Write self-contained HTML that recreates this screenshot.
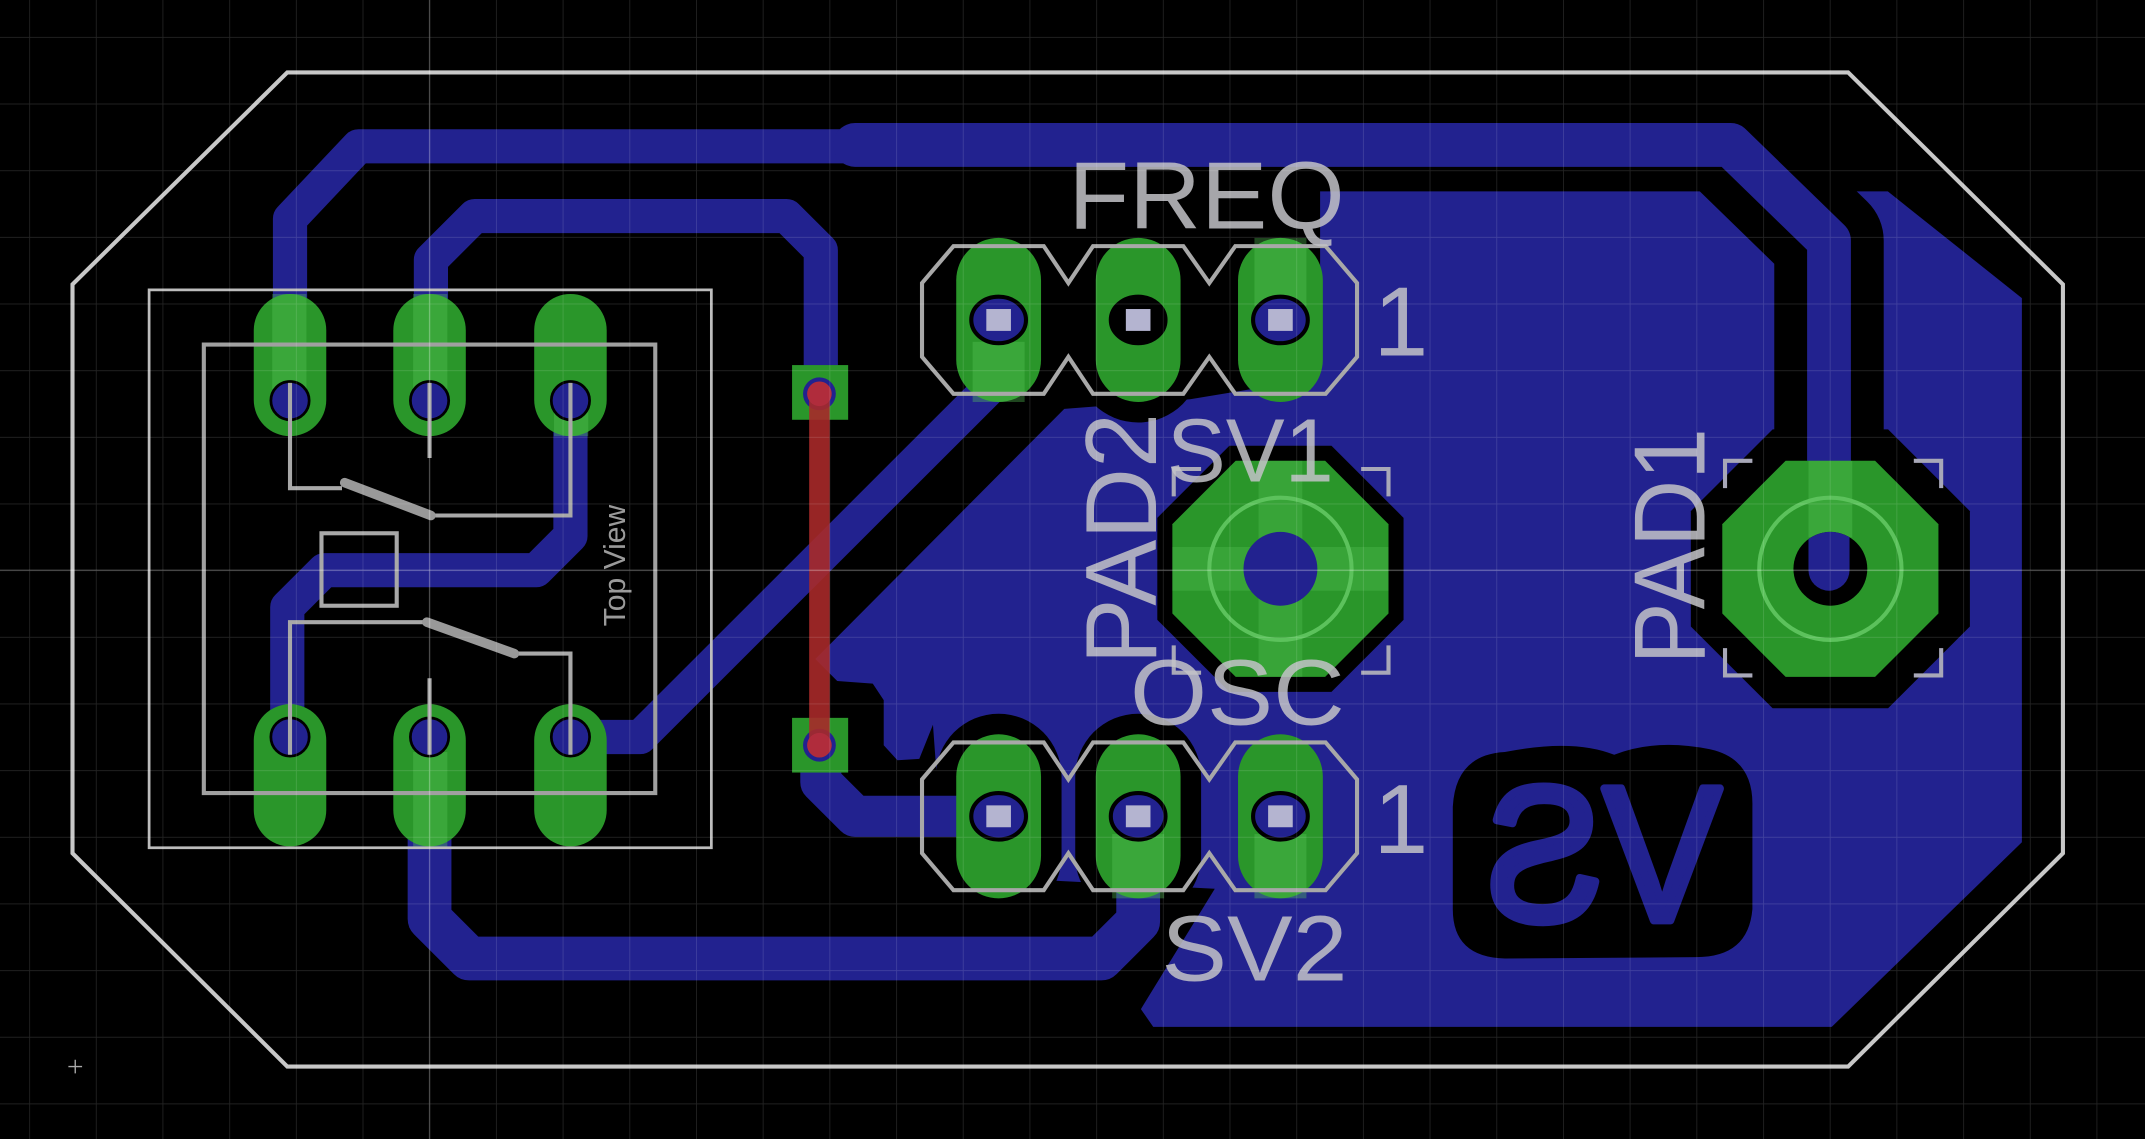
<!DOCTYPE html>
<html><head><meta charset="utf-8"><style>
html,body{margin:0;padding:0;background:#000;}
svg{display:block;}
</style></head><body>
<svg width="2145" height="1139" viewBox="0 0 1568 833" preserveAspectRatio="none" xmlns="http://www.w3.org/2000/svg">
<defs>
<pattern id="g" patternUnits="userSpaceOnUse" x="21.3" y="27" width="48.75" height="48.75">
<path d="M0 0H48.75M0 0V48.75" stroke="rgba(255,255,255,0.14)" stroke-width="1.2" fill="none"/>
</pattern>
<clipPath id="h1"><circle cx="1338" cy="416" r="27"/></clipPath>
</defs>
<rect width="1568" height="833" fill="#000"/>

<!-- copper pour -->
<polygon fill="#22228f" points="778,299 870,292 918,284 965,258 965,140 1380,140 1478,218 1478,616 1339,751 843,751 834,738 888,650 690,640 682,530 672,555 656,556 646,545 646,512 638,500 612,498 596,482"/>

<!-- clearances -->
<g stroke="#000" fill="none" stroke-linejoin="round" stroke-linecap="round">
<polyline points="1265,106 1337,176 1337,417" stroke-width="80"/>
<polyline points="314,545 314,672 343,701 805,701 832,674 832,597" stroke-width="70"/>
</g>
<polygon fill="#000" transform="translate(936,416)" points="90,37.3 37.3,90 -37.3,90 -90,37.3 -90,-37.3 -37.3,-90 37.3,-90 90,-37.3"/>
<polygon fill="#000" transform="translate(1338,416)" points="102,42.2 42.2,102 -42.2,102 -102,42.2 -102,-42.2 -42.2,-102 42.2,-102 102,-42.2"/>
<g fill="#000">
<rect x="684" y="522" width="92" height="150" rx="46"/>
<rect x="786" y="522" width="92" height="150" rx="46"/>
<rect x="684" y="159" width="92" height="150" rx="46"/>
<rect x="786" y="159" width="92" height="150" rx="46"/>
</g>

<!-- SV copper logo -->
<path d="M1100,550 Q1150,540 1180,552 Q1210,540 1250,548 Q1282,555 1281,590 L1281,665 Q1278,700 1240,700 L1100,701 Q1062,700 1062,665 L1062,590 Q1064,552 1100,550 Z" fill="#000"/>
<text x="1086" y="673" font-family="Liberation Sans, DejaVu Sans, sans-serif" font-size="140" textLength="172" lengthAdjust="spacingAndGlyphs" fill="#22228f" stroke="#22228f" stroke-width="6" stroke-linejoin="round">ƧV</text>

<!-- traces -->
<g stroke="#22228f" fill="none" stroke-linejoin="round" stroke-linecap="round">
<polyline points="212,293 212,160 262,107 625,107" stroke-width="25"/>
<polyline points="625,106 1265,106 1337,176 1337,392" stroke-width="32"/>
<polyline points="315,293 315,190 347,158 575,158 600,183 600,288" stroke-width="25"/>
<polyline points="417,293 417,392 392,417 237,417 210,444 210,540" stroke-width="25"/>
<polyline points="417,539 468,539 730,277 730,234" stroke-width="25"/>
<polyline points="600,544 600,572 625,597 730,597" stroke-width="30"/>
<polyline points="314,545 314,672 343,701 805,701 832,674 832,597" stroke-width="32"/>
</g>

<!-- board outline -->
<polygon points="210,53 1351,53 1508,208 1508,624 1351,780 210,780 53,624 53,208" fill="none" stroke="#c8c8c8" stroke-width="3"/>

<!-- DIP switch pads -->
<g fill="#2a962a">
<rect x="185.5" y="215" width="53" height="104" rx="26.5"/>
<rect x="287.5" y="215" width="53" height="104" rx="26.5"/>
<rect x="390.5" y="215" width="53" height="104" rx="26.5"/>
<rect x="185.5" y="515" width="53" height="104" rx="26.5"/>
<rect x="287.5" y="515" width="53" height="104" rx="26.5"/>
<rect x="390.5" y="515" width="53" height="104" rx="26.5"/>
</g>
<g fill="rgba(90,200,90,0.35)">
<rect x="199" y="215" width="25" height="70"/>
<rect x="302" y="215" width="25" height="70"/>
<rect x="302" y="550" width="25" height="69"/>
<rect x="405" y="300" width="25" height="19"/>
</g>
<g fill="#22228f" stroke="#000" stroke-width="2">
<circle cx="212" cy="293" r="14"/><circle cx="314" cy="293" r="14"/><circle cx="417" cy="293" r="14"/>
<circle cx="212" cy="539" r="14"/><circle cx="314" cy="539" r="14"/><circle cx="417" cy="539" r="14"/>
</g>
<!-- DIP silk -->
<rect x="109" y="212" width="411" height="408" fill="none" stroke="#bdbdbd" stroke-width="2"/>
<rect x="149" y="252" width="330" height="328" fill="none" stroke="#a0a0a0" stroke-width="3"/>
<g stroke="#a8a8a8" stroke-width="3" fill="none">
<polyline points="212,280 212,357 250,357"/>
<polyline points="315,377 417,377 417,280"/>
<line x1="314" y1="280" x2="314" y2="335"/>
<polyline points="212,552 212,455 312,455"/>
<polyline points="377,478 417,478 417,552"/>
<line x1="314" y1="552" x2="314" y2="496"/>
<rect x="235" y="390" width="55" height="53"/>
</g>
<g stroke="#999" stroke-width="7" stroke-linecap="round">
<line x1="252" y1="353" x2="315" y2="377"/>
<line x1="312" y1="455" x2="376" y2="478"/>
</g>
<text transform="translate(457,458) rotate(-90)" font-family="Liberation Sans, sans-serif" font-size="22" fill="#9a9a9a">Top View</text>

<!-- vias -->
<rect x="579" y="267" width="41" height="40" fill="#2a962a"/>
<rect x="579" y="525" width="41" height="40" fill="#2a962a"/>
<circle cx="599" cy="288" r="12" fill="#22228f"/>
<circle cx="599" cy="545" r="12" fill="#22228f"/>
<line x1="599" y1="288" x2="599" y2="545" stroke="#a82a2a" stroke-width="15" opacity="0.9"/>
<circle cx="599" cy="288" r="9" fill="#b02c3c"/>
<circle cx="599" cy="545" r="9" fill="#b02c3c"/>

<!-- SV headers -->
<g fill="#2a962a">
<rect x="699" y="174" width="62" height="120" rx="31"/>
<rect x="801" y="174" width="62" height="120" rx="31"/>
<rect x="905" y="174" width="62" height="120" rx="31"/>
<rect x="699" y="537" width="62" height="120" rx="31"/>
<rect x="801" y="537" width="62" height="120" rx="31"/>
<rect x="905" y="537" width="62" height="120" rx="31"/>
</g>
<g fill="rgba(90,200,90,0.35)">
<rect x="711" y="250" width="38" height="44"/>
<rect x="917" y="174" width="38" height="50"/>
<rect x="813" y="610" width="38" height="47"/>
<rect x="917" y="610" width="38" height="47"/>
</g>
<g fill="#22228f" stroke="#000" stroke-width="3">
<ellipse cx="730" cy="234" rx="20" ry="17"/><ellipse cx="832" cy="234" rx="20" ry="17" fill="#000"/><ellipse cx="936" cy="234" rx="20" ry="17"/>
<ellipse cx="730" cy="597" rx="20" ry="17"/><ellipse cx="832" cy="597" rx="20" ry="17"/><ellipse cx="936" cy="597" rx="20" ry="17"/>
</g>
<g fill="#b4b4d0">
<rect x="721" y="226" width="18" height="16"/><rect x="823" y="226" width="18" height="16"/><rect x="927" y="226" width="18" height="16"/>
<rect x="721" y="589" width="18" height="16"/><rect x="823" y="589" width="18" height="16"/><rect x="927" y="589" width="18" height="16"/>
</g>
<g fill="none" stroke="#a8a8a8" stroke-width="3" stroke-linejoin="miter">
<polygon transform="translate(0,234)" points="674,-27 697,-54 763,-54 781,-27 799,-54 865,-54 884,-27 903,-54 969,-54 992,-27 992,27 969,54 903,54 884,27 865,54 799,54 781,27 763,54 697,54 674,27"/>
<polygon transform="translate(0,597)" points="674,-27 697,-54 763,-54 781,-27 799,-54 865,-54 884,-27 903,-54 969,-54 992,-27 992,27 969,54 903,54 884,27 865,54 799,54 781,27 763,54 697,54 674,27"/>
</g>

<!-- PAD2 -->
<polygon fill="#2a962a" transform="translate(936,416)" points="79,32.7 32.7,79 -32.7,79 -79,32.7 -79,-32.7 -32.7,-79 32.7,-79 79,-32.7"/>
<rect x="920" y="337" width="32" height="158" fill="rgba(90,200,90,0.3)"/>
<rect x="857" y="400" width="158" height="32" fill="rgba(90,200,90,0.3)"/>
<circle cx="936" cy="416" r="52" fill="none" stroke="#5cc25c" stroke-width="3"/>
<circle cx="936" cy="416" r="27" fill="#22228f"/>
<!-- PAD1 -->
<polygon fill="#2a962a" transform="translate(1338,416)" points="79,32.7 32.7,79 -32.7,79 -79,32.7 -79,-32.7 -32.7,-79 32.7,-79 79,-32.7"/>
<rect x="1322" y="337" width="32" height="56" fill="rgba(90,200,90,0.35)"/>
<circle cx="1338" cy="416" r="52" fill="none" stroke="#5cc25c" stroke-width="3"/>
<circle cx="1338" cy="416" r="27" fill="#000"/>
<line x1="1337" y1="370" x2="1337" y2="417" stroke="#22228f" stroke-width="30" stroke-linecap="round" clip-path="url(#h1)"/>

<!-- pad brackets -->
<g fill="none" stroke="#a8a8b8" stroke-width="3">
<path d="M858,363V343H878M995,343H1015V363M858,472V492H878M995,492H1015V472"/>
<path d="M1261,357V337H1281M1399,337H1419V357M1261,474V494H1281M1399,494H1419V474"/>
</g>

<!-- silk labels -->
<g font-family="Liberation Sans, sans-serif" fill="rgba(195,195,200,0.85)">
<text x="781" y="167" font-size="70" textLength="202" lengthAdjust="spacingAndGlyphs">FREQ</text>
<text x="853" y="352" font-size="66" textLength="122" lengthAdjust="spacingAndGlyphs">SV1</text>
<text x="826" y="530" font-size="68" textLength="157" lengthAdjust="spacingAndGlyphs">OSC</text>
<text x="849" y="717" font-size="68" textLength="136" lengthAdjust="spacingAndGlyphs">SV2</text>
<text x="1004" y="260" font-size="72">1</text>
<text x="1004" y="624" font-size="72">1</text>
<text transform="translate(845,486) rotate(-90)" font-size="74" textLength="184" lengthAdjust="spacingAndGlyphs">PAD2</text>
<text transform="translate(1246,486) rotate(-90)" font-size="74" textLength="173" lengthAdjust="spacingAndGlyphs">PAD1</text>
</g>

<!-- grid -->
<rect width="1568" height="833" fill="url(#g)"/>
<line x1="314" y1="0" x2="314" y2="833" stroke="rgba(255,255,255,0.22)" stroke-width="1"/>
<line x1="0" y1="417" x2="1568" y2="417" stroke="rgba(255,255,255,0.22)" stroke-width="1"/>
<path d="M50,780H60M55,775V785" stroke="#aaa" stroke-width="1"/>
</svg>
</body></html>
